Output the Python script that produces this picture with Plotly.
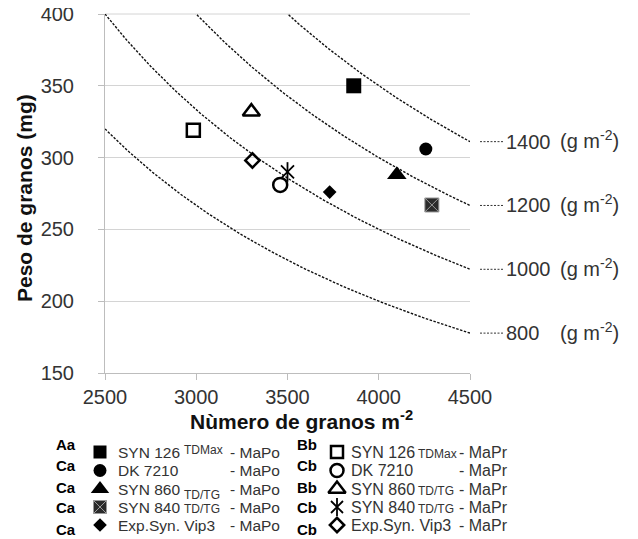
import plotly.graph_objects as go

# page body has an 8px margin, so the figure is 8px smaller and shifted
OFF = 8
PAGE_W, PAGE_H = 638, 539
FIG_W, FIG_H = PAGE_W - OFF, PAGE_H - OFF

# ---------------- data ----------------
genotypes = ["SYN 126", "DK 7210", "SYN 860", "SYN 840", "Exp.Syn. Vip3"]
techs = ["TDMax", "", "TD/TG", "TD/TG", ""]
letters_mapo = ["Aa", "Ca", "Ca", "Ca", "Ca"]
letters_mapr = ["Bb", "Cb", "Bb", "Cb", "Cb"]

granos_mapo = [3863, 4258, 4099, 4291, 3731]
peso_mapo = [350, 306, 288, 267, 276]
granos_mapr = [2984, 3460, 3302, 3500, 3308]
peso_mapr = [319, 281, 332, 290, 298]

yield_levels = [800, 1000, 1200, 1400]
x_ticks = [2500, 3000, 3500, 4000, 4500]
y_ticks = [150, 200, 250, 300, 350, 400]

# ---------------- layout helpers (page pixel coordinates) ----------------
X_RANGE = [2500, 4500]
Y_RANGE = [150, 400]
PLOT_L, PLOT_R, PLOT_T, PLOT_B = 105, 470, 14, 373


def px(x):
    return (x - OFF) / FIG_W


def py(y):
    return 1 - (y - OFF) / FIG_H


XDOM = [px(PLOT_L), px(PLOT_R)]
YDOM = [py(PLOT_B), py(PLOT_T)]


def yval_to_paper(v):
    return YDOM[0] + (v - Y_RANGE[0]) / (Y_RANGE[1] - Y_RANGE[0]) * (YDOM[1] - YDOM[0])


FONT = "Liberation Sans, Arial, sans-serif"
TXT = "#333333"

fig = go.Figure()

# iso-yield curves (yield = granos * peso / 1000)
n_grid = list(range(X_RANGE[0], X_RANGE[1] + 1, 10))
for yl in yield_levels:
    fig.add_trace(go.Scatter(
        x=n_grid, y=[yl * 1000.0 / n for n in n_grid], mode="lines",
        line=dict(color="#111111", width=1.4, dash="2.5px,1.5px"),
        hoverinfo="skip", showlegend=False))

sym_mapo = ["square", "circle", "triangle-up", "square-x", "diamond"]
size_mapo = [15, 13, 17, 14, 10.5]
sym_mapr = ["square-open", "circle-open", "triangle-up-open", "x-thin-open", "diamond-open"]
size_mapr = [13, 14, 15, 13, 11]


def mapo_marker(i, size):
    xsq = sym_mapo[i] == "square-x"
    return dict(symbol=sym_mapo[i], size=size, color="#2b2b2b" if xsq else "black",
                line=dict(color="#9a9a9a" if xsq else "black", width=1 if xsq else 0))


def mapr_marker(i, size, symbol=None):
    w = 1.8 if sym_mapr[i] == "x-thin-open" else 2.5
    return dict(symbol=symbol or sym_mapr[i], size=size, color="black",
                line=dict(color="black", width=w))


for i in range(5):
    fig.add_trace(go.Scatter(
        x=[granos_mapo[i]], y=[peso_mapo[i]], mode="markers",
        name=genotypes[i] + " - MaPo", marker=mapo_marker(i, size_mapo[i]),
        showlegend=False))
for i in range(5):
    fig.add_trace(go.Scatter(
        x=[granos_mapr[i]], y=[peso_mapr[i]], mode="markers",
        name=genotypes[i] + " - MaPr", marker=mapr_marker(i, size_mapr[i]),
        showlegend=False))
    if sym_mapr[i] == "x-thin-open":
        fig.add_trace(go.Scatter(
            x=[granos_mapr[i]], y=[peso_mapr[i]], mode="markers",
            marker=mapr_marker(i, size_mapr[i] + 1, "line-ns-open"),
            showlegend=False, hoverinfo="skip"))

# ---------------- custom legend (hidden overlay axis in page-pixel units) ----------------
row_y = [452, 470.5, 489, 507, 525]
letter_y = [444, 465.5, 487, 508, 529]
col_sym_x = [100, 337]
col_text_x = [116, 349]
col_tech_x = [182, 416]
col_suffix_x = [282, 510]
col_letter_x = [66, 307]
tech_dy_left = [-2, 0, 6, 1.5, 0]
tech_dy_right = [1.5, 0, 1.5, 1.5, 0]
leg_size_mapo = [13, 13, 16, 13, 10.5]
leg_size_mapr = [12, 13, 15, 12, 11]

for i in range(5):
    fig.add_trace(go.Scatter(
        x=[col_sym_x[0]], y=[row_y[i]], xaxis="x2", yaxis="y2", mode="markers",
        marker=mapo_marker(i, leg_size_mapo[i]), showlegend=False, hoverinfo="skip"))
    fig.add_trace(go.Scatter(
        x=[col_sym_x[1]], y=[row_y[i]], xaxis="x2", yaxis="y2", mode="markers",
        marker=mapr_marker(i, leg_size_mapr[i]), showlegend=False, hoverinfo="skip"))
    if sym_mapr[i] == "x-thin-open":
        fig.add_trace(go.Scatter(
            x=[col_sym_x[1]], y=[row_y[i]], xaxis="x2", yaxis="y2", mode="markers",
            marker=mapr_marker(i, leg_size_mapr[i] + 1, "line-ns-open"),
            showlegend=False, hoverinfo="skip"))

annotations = []


def ann(x, y, text, size, xanchor="left", yanchor="middle", bold=False, color=TXT, **kw):
    t = f"<b>{text}</b>" if bold else text
    d = dict(x=px(x), y=py(y), xref="paper", yref="paper", text=t, showarrow=False,
             xanchor=xanchor, yanchor=yanchor, font=dict(family=FONT, size=size, color=color))
    d.update(kw)
    annotations.append(d)


for i in range(5):
    # left column (MaPo)
    ann(col_text_x[0], row_y[i], genotypes[i], 15.5)
    if techs[i]:
        ann(col_tech_x[0], row_y[i] + tech_dy_left[i], techs[i], 12)
    ann(col_suffix_x[0], row_y[i], "- MaPo", 15.5, xanchor="right")
    ann(col_letter_x[0], letter_y[i], letters_mapo[i], 15, xanchor="center", bold=True, color="black")
    # right column (MaPr)
    ann(col_text_x[1], row_y[i], genotypes[i], 16)
    if techs[i]:
        ann(col_tech_x[1], row_y[i] + tech_dy_right[i], techs[i], 12)
    ann(col_suffix_x[1], row_y[i], "- MaPr", 16, xanchor="right")
    ann(col_letter_x[1], letter_y[i], letters_mapr[i], 15, xanchor="center", bold=True, color="black")

# axis titles
ann(25, 198, "Peso de granos (mg)", 21, xanchor="center", bold=True, color="#111111", textangle=-90)
ann(301, 420, "Nùmero de granos m<sup>-2</sup>", 21, xanchor="center", bold=True, color="#111111")

# iso-yield labels on the right
shapes = []
for yl in yield_levels:
    v = yl * 1000.0 / X_RANGE[1]
    yp = yval_to_paper(v)
    shapes.append(dict(type="line", xref="paper", yref="paper", x0=px(480), x1=px(503),
                       y0=yp, y1=yp, line=dict(color="#333333", width=1, dash="2px,1.5px")))
    annotations.append(dict(x=px(504), y=yp, xref="paper", yref="paper", text=str(yl),
                            showarrow=False, xanchor="left", yanchor="middle",
                            font=dict(family=FONT, size=20, color=TXT)))
    annotations.append(dict(x=px(558), y=yp, xref="paper", yref="paper",
                            text="(g m<sup>-2</sup>)", showarrow=False, xanchor="left",
                            yanchor="middle", yshift=2,
                            font=dict(family=FONT, size=20, color=TXT)))

# top gridline at the upper end of the y range
shapes.append(dict(type="line", xref="paper", yref="paper", x0=XDOM[0], x1=XDOM[1],
                   y0=YDOM[1], y1=YDOM[1], line=dict(color="#d4d4d4", width=1), layer="below"))

fig.update_layout(
    template="none",
    width=FIG_W, height=FIG_H,
    margin=dict(l=0, r=0, t=0, b=0),
    paper_bgcolor="white", plot_bgcolor="rgba(0,0,0,0)",
    showlegend=False,
    xaxis=dict(domain=XDOM, range=X_RANGE, tickvals=x_ticks, showgrid=False, zeroline=False,
               showline=True, linecolor="#bdbdbd", linewidth=1, ticks="outside", ticklen=6,
               tickcolor="#bdbdbd", ticklabelstandoff=0, automargin=False,
               ticklabeloverflow="allow",
               tickfont=dict(family=FONT, size=20, color=TXT)),
    yaxis=dict(domain=YDOM, range=Y_RANGE, tickvals=y_ticks, showgrid=True, gridcolor="#d4d4d4",
               gridwidth=1, zeroline=False, showline=True, linecolor="#bdbdbd", linewidth=1,
               ticks="outside", ticklen=6, tickcolor="#bdbdbd", ticklabelstandoff=20,
               ticklabeloverflow="allow",
               automargin=False, tickfont=dict(family=FONT, size=20, color=TXT)),
    xaxis2=dict(domain=[0, 1], range=[OFF, PAGE_W], visible=False, anchor="y2", fixedrange=True),
    yaxis2=dict(domain=[0, 1], range=[PAGE_H, OFF], visible=False, anchor="x2", fixedrange=True),
    annotations=annotations,
    shapes=shapes,
)

fig.write_html("out.html")
